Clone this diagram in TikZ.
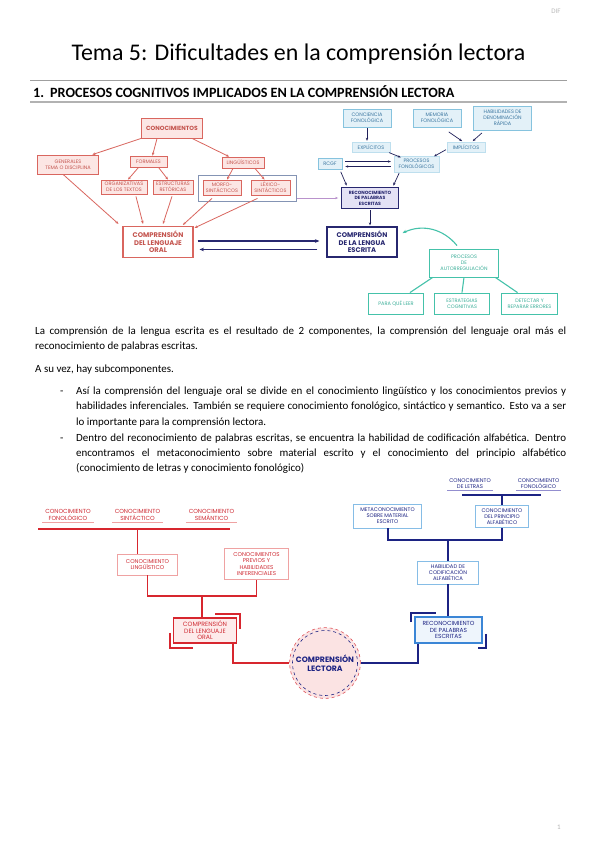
\documentclass[tikz,border=0pt]{standalone}
\usepackage{fontspec}
\setmainfont{Carlito}
\newfontfamily\dfont{Poppins}
\usetikzlibrary{arrows.meta,calc}
\definecolor{redA}{HTML}{D9665F}
\definecolor{pinkfill}{HTML}{FCE6E4}
\definecolor{redtext}{HTML}{C4544E}
\definecolor{slate}{HTML}{8494B4}
\definecolor{bluefill}{HTML}{E3F1F8}
\definecolor{blueborder}{HTML}{86C3DE}
\definecolor{bluetext}{HTML}{3A76A0}
\definecolor{lavfill}{HTML}{E4E2F5}
\definecolor{navy}{HTML}{27276F}
\definecolor{teal}{HTML}{45C2AA}
\definecolor{tealtext}{HTML}{3AAE98}
\definecolor{purpleline}{HTML}{B992CC}
\definecolor{red2}{HTML}{D7262E}
\definecolor{red2text}{HTML}{CF2B33}
\definecolor{pink2}{HTML}{EFA2A2}
\definecolor{pinkC}{HTML}{FBE3E3}
\definecolor{navy2}{HTML}{1C2383}
\definecolor{blue2}{HTML}{3B86D6}
\definecolor{lblue2}{HTML}{86BDE6}
\definecolor{fill2}{HTML}{FDEBEB}
\definecolor{bfill2}{HTML}{EEF5FC}
\newcommand{\bodyfnt}{\fontsize{11}{15.5}\selectfont}
\begin{document}
\begin{tikzpicture}[x=1bp,y=-1bp,
  wh/.style 2 args={minimum width=#1, minimum height=#2},
  dtxt/.style={font=\dfont\fontsize{5}{6}\selectfont, align=center, inner sep=0.5},
  rbox/.style={dtxt, draw=redA, fill=pinkfill, line width=0.8, text=redtext},
  rbig/.style={draw=redA, fill=white, line width=1.3, text=redtext, align=center, inner sep=0.5, font=\dfont\bfseries\fontsize{6.8}{7.4}\selectfont},
  bbox/.style={dtxt, draw=blueborder, fill=bluefill, line width=0.8, text=bluetext},
  bsoft/.style={dtxt, draw=bluefill!60!blueborder, fill=bluefill, line width=0.5, text=bluetext},
  lbox/.style={draw=navy, fill=lavfill, line width=1, text=navy, align=center, inner sep=0.5, font=\dfont\bfseries\fontsize{4.6}{5.5}\selectfont},
  nbig/.style={draw=navy, fill=white, line width=1.4, text=navy, align=center, inner sep=0.5, font=\dfont\bfseries\fontsize{6.8}{7.4}\selectfont},
  tbox/.style={dtxt, draw=teal, fill=white, line width=0.9, text=tealtext},
  rarr/.style={draw=redA, line width=0.8, -{Stealth[length=3.2,width=2.6]}},
  darr/.style={draw=navy!80!black, line width=0.7, -{Stealth[length=3,width=2.4]}, shorten >=1, shorten <=1},
  narr/.style={draw=navy, line width=1.4, -{Stealth[length=4.5,width=3.6]}},
  tline/.style={draw=teal, line width=1.1},
  r2lab/.style={font=\dfont\fontsize{5.9}{6.6}\selectfont, align=center, inner sep=1, text=red2text, minimum width=51},
  b2lab/.style={font=\dfont\fontsize{5.4}{6.2}\selectfont, align=center, inner sep=1, text=navy2, minimum width=45},
  r2box/.style={font=\dfont\fontsize{5.6}{6.3}\selectfont, align=center, inner sep=0.5, text=red2text, draw=pink2, fill=white, line width=0.8},
  b2box/.style={font=\dfont\fontsize{5.3}{6.1}\selectfont, align=center, inner sep=0.5, text=navy2, draw=lblue2, fill=white, line width=0.8},
  r2line/.style={draw=red2, line width=2},
  b2line/.style={draw=navy2, line width=2}
]
\useasboundingbox (0,0) rectangle (599,848);
\fill[white] (0,0) rectangle (599,848);

% header
\node[anchor=base, inner sep=0, text=gray!55, font=\fontsize{7}{8}\selectfont] (dif) at (556,13) {DIF};
\node[anchor=base, inner sep=0, font=\fontsize{24}{28}\selectfont] (title) at (298.5,60.5) {Tema 5: Dificultades en la comprensión lectora};
\coordinate (r1a) at (30,80); \coordinate (r1b) at (567,80);
\draw[gray!75, line width=0.8] (r1a) -- (r1b);
\node[anchor=base west, inner sep=0, font=\bfseries\fontsize{14.2}{16}\selectfont] (h1n) at (33,97) {1.};
\node[anchor=base west, inner sep=0, font=\bfseries\fontsize{14.2}{16}\selectfont] (h1) at (50,97) {PROCESOS COGNITIVOS IMPLICADOS EN LA COMPRENSIÓN LECTORA};
\coordinate (r2a) at (30,102); \coordinate (r2b) at (567,102);
\draw[gray!60, line width=2.4] (r2a) -- (r2b);

% ===== diagram 1, red part
\node[rbox, wh={61}{20}, font=\dfont\bfseries\fontsize{6}{7}\selectfont] (conoc) at (172,128) {CONOCIMIENTOS};
\node[rbox, wh={62}{19}] (gen) at (68,164.5) {GENERALES\\TEMA O DISCIPLINA};
\node[rbox, wh={37}{11}] (form) at (148.5,161.5) {FORMALES};
\node[rbox, wh={42}{11}] (ling) at (243,162.5) {LINGÜÍSTICOS};
\node[rbox, wh={46}{14}] (org) at (124,187) {ORGANIZATIVAS\\DE LOS TEXTOS};
\node[rbox, wh={40}{14}] (est) at (173,187) {ESTRUCTURAS\\RETÓRICAS};
\node[draw=slate, line width=1, wh={99}{27}, inner sep=0] (grp) at (247.5,188.5) {};
\node[rbox, wh={38}{15}] (morf) at (222,187.5) {MORFO-\\SINTÁCTICOS};
\node[rbox, wh={39}{15}] (lex) at (270.5,187.5) {LÉXICO-\\SINTÁCTICOS};
\node[rbig, wh={70}{31}] (cdlo) at (158,242) {COMPRENSIÓN\\DEL LENGUAJE\\ORAL};

\draw[rarr] (conoc.south west) -- ([xshift=-7]gen.north east);
\draw[rarr] ([xshift=-15]conoc.south) -- ([xshift=4]form.north);
\draw[rarr] ([xshift=20]conoc.south) -- ([xshift=-14]ling.north);
\draw[rarr] ([xshift=-10]form.south) -- ([xshift=4]org.north);
\draw[rarr] ([xshift=10]form.south) -- ([xshift=-5]est.north);
\draw[rarr] ([xshift=-10]ling.south) -- ([xshift=5]morf.north);
\draw[rarr] ([xshift=12]ling.south) -- ([xshift=-6]lex.north);
\draw[rarr] ([xshift=-5]gen.south) -- ([xshift=-4,yshift=2]cdlo.north west);
\draw[rarr] ([xshift=12,yshift=-2]org.south) -- ([xshift=-15,yshift=2]cdlo.north);
\draw[rarr] ([xshift=-1,yshift=-2]est.south) -- ([xshift=5,yshift=2]cdlo.north);
\draw[rarr] ([xshift=-10,yshift=-3]morf.south) -- ([xshift=25,yshift=1]cdlo.north);
\draw[rarr] ([xshift=-13,yshift=-3]lex.south) -- ([xshift=1,yshift=-2]cdlo.north east);

% ===== diagram 1, blue part
\node[bbox, wh={48}{18}] (cf) at (367,118) {CONCIENCIA\\FONOLÓGICA};
\node[bbox, wh={48}{18}] (mf) at (437,118) {MEMORIA\\FONOLÓGICA};
\node[bbox, wh={59}{24}] (hd) at (502.5,118) {HABILIDADES DE\\DENOMINACIÓN\\RÁPIDA};
\node[bsoft, wh={38}{10}] (exp) at (371,147) {EXPLÍCITOS};
\node[bsoft, wh={38}{10}] (imp) at (466,147) {IMPLÍCITOS};
\node[bbox, wh={24}{11}] (rcgf) at (330,164) {RCGF};
\node[bsoft, wh={45}{16}] (pf) at (416.5,164) {PROCESOS\\FONOLÓGICOS};
\node[lbox, wh={57}{22}] (recon) at (370,198) {RECONOCIMIENTO\\DE PALABRAS\\ESCRITAS};
\node[nbig, wh={70}{30}] (cdle) at (362,242) {COMPRENSIÓN\\DE LA LENGUA\\ESCRITA};

\draw[darr] (cf.south) -- (cf.south |- exp.north);
\draw[darr] ([xshift=11,yshift=-4]mf.south) -- ([xshift=-3]imp.north);
\draw[darr] ([xshift=-20,yshift=-2]hd.south) -- ([xshift=6]imp.north);
\draw[darr] ([xshift=-2]exp.south east) -- ([xshift=8,yshift=-2]pf.north west);
\draw[darr] ([yshift=3]imp.south west) -- ([xshift=-6,yshift=-1]pf.north east);
\draw[darr, shorten <=3, shorten >=3] ([yshift=2.5]rcgf.east) -- ([yshift=2.5]pf.west);
\draw[darr, shorten <=3, shorten >=3] ([yshift=-2.5]pf.west) -- ([yshift=-2.5]rcgf.east);
\draw[darr] ([xshift=-2,yshift=-1]rcgf.south east) -- ([xshift=6]recon.north west);
\draw[darr] ([xshift=-17]pf.south) -- ([xshift=-6]recon.north east);
\draw[darr, line width=0.9] (recon.south) -- (recon.south |- cdle.north);
\draw[draw=purpleline, line width=0.8, -{Stealth[length=3,width=2.4]}, shorten >=3] (grp.east |- recon.west) -- (recon.west);

\draw[narr] ([xshift=4,yshift=1]cdlo.east) -- ([xshift=-7,yshift=1]cdle.west);
\draw[narr] ([xshift=-9,yshift=-7.5]cdle.west) -- ([xshift=6,yshift=-7.5]cdlo.east);

% teal
\node[tbox, wh={70}{28}] (par) at (464,263) {PROCESOS\\DE\\AUTORREGULACIÓN};
\node[tbox, wh={56}{21}] (pql) at (396,303.5) {PARA QUÉ LEER};
\node[tbox, wh={56}{21}] (estc) at (462,303.5) {ESTRATEGIAS\\COGNITIVAS};
\node[tbox, wh={57}{21}] (det) at (529.5,303.5) {DETECTAR Y\\REPARAR ERRORES};
\draw[tline, -{Stealth[length=4,width=3.4]}] ([xshift=-7,yshift=3]par.north) to[bend right=38] ([xshift=5,yshift=9]cdle.east);
\draw[tline] ([xshift=4]par.south west) -- ([xshift=14]pql.north);
\draw[tline] (par.south) -- (estc.north);
\draw[tline] ([xshift=-4]par.south east) -- ([xshift=-12]det.north);

% ===== body text
\node[anchor=base west, text width=531bp, align=justify, inner sep=0, font=\bodyfnt] (p1) at (35,334) {La comprensión de la lengua escrita es el resultado de 2 componentes, la comprensión del lenguaje oral más el\linebreak reconocimiento de palabras escritas.};
\node[anchor=base west, inner sep=0, font=\bodyfnt] (p2) at (35,372) {A su vez, hay subcomponentes.};
\node[anchor=base west, inner sep=0, font=\bodyfnt] (d1) at (60,394.5) {-};
\node[anchor=base west, text width=490bp, align=justify, inner sep=0, font=\bodyfnt] (b1) at (76,394.5) {Así la comprensión del lenguaje oral se divide en el conocimiento lingüístico y los conocimientos previos y\linebreak habilidades inferenciales. También se requiere conocimiento fonológico, sintáctico y semantico. Esto va a ser\linebreak lo importante para la comprensión lectora.};
\node[anchor=base west, inner sep=0, font=\bodyfnt] (d2) at (60,441) {-};
\node[anchor=base west, text width=490bp, align=justify, inner sep=0, font=\bodyfnt] (b2) at (76,441) {Dentro del reconocimiento de palabras escritas, se encuentra la habilidad de codificación alfabética. Dentro\linebreak encontramos el metaconocimiento sobre material escrito y el conocimiento del principio alfabético\linebreak (conocimiento de letras y conocimiento fonológico)};

% ===== diagram 2, red
\node[r2lab] (cfon) at (68,515) {CONOCIMIENTO\\FONOLÓGICO};
\node[r2lab] (csin) at (137.5,515) {CONOCIMIENTO\\SINTÁCTICO};
\node[r2lab] (csem) at (211.5,515) {CONOCIMIENTO\\SEMÁNTICO};
\foreach \n in {cfon,csin,csem} \draw[pink2, line width=0.9] ([yshift=-1]\n.south west) -- ([yshift=-1]\n.south east);
\coordinate (rbL) at (38,529); \coordinate (rbR) at (230,529);
\draw[r2line] (rbL) -- (rbR);
\node[r2box, wh={61}{21}] (cling) at (147.5,564.5) {CONOCIMIENTO\\LINGÜÍSTICO};
\node[r2box, wh={64}{31}] (cprev) at (256.5,564) {CONOCIMIENTOS\\PREVIOS Y\\HABILIDADES\\INFERENCIALES};
\draw[r2line] (csin.south |- rbL) -- (csin.south |- cling.north);
\coordinate (jr) at (202,596);
\draw[r2line] (cling.south) |- (jr) -| (cprev.south);
\node[draw=red2, fill=fill2, line width=1.6, wh={63}{25}, font=\dfont\fontsize{6.2}{6.6}\selectfont, text=red2text, align=center, inner sep=0.5] (cdlo2) at (205,630.5) {COMPRENSIÓN\\DEL LENGUAJE\\ORAL};
\draw[r2line] (jr) -- (jr |- cdlo2.north);
\draw[red2, line width=2.2] ([xshift=-22,yshift=3]cdlo2.north east) -| ([xshift=3,yshift=-12]cdlo2.north east);
\draw[red2, line width=2.2] ([xshift=-3,yshift=11]cdlo2.south west) |- ([xshift=20,yshift=-4]cdlo2.south west);

% circle
\node[circle, minimum size=71, fill=pinkC, draw=red2!80, dashed, line width=0.6, text=navy2, font=\dfont\bfseries\fontsize{7.8}{9}\selectfont, align=center, inner sep=0] (cl) at (325,663) {COMPRENSIÓN\\LECTORA};
\draw[navy2, dashed, line width=0.6] (cl.center) circle (32.5);
\draw[r2line] ([xshift=-4]cdlo2.south east) |- (cl.west);

% ===== diagram 2, blue
\node[b2lab] (clet) at (470,484) {CONOCIMIENTO\\DE LETRAS};
\node[b2lab] (cfon2) at (538.5,484) {CONOCIMIENTO\\FONOLÓGICO};
\foreach \n in {clet,cfon2} \draw[purpleline!70!blue2, line width=0.9] ([yshift=-0.5]\n.south west) -- ([yshift=-0.5]\n.south east);
\coordinate (bbL) at (462,494.5); \coordinate (bbR) at (541,494.5);
\draw[b2line] (bbL) -- (bbR);
\node[b2box, wh={69}{24}] (meta) at (387.5,516) {METACONOCIMIENTO\\SOBRE MATERIAL\\ESCRITO};
\node[b2box, wh={53}{22}] (cpa) at (502,516.5) {CONOCIMIENTO\\DEL PRINCIPIO\\ALFABÉTICO};
\draw[b2line] (cpa.north |- bbL) -- (cpa.north);
\node[b2box, wh={62}{23}] (hab) at (448,572.5) {HABILIDAD DE\\CODIFICACIÓN\\ALFABÉTICA};
\coordinate (jb) at (448,540);
\draw[b2line] (meta.south) |- (jb) -| (cpa.south);
\draw[b2line] (jb) -- (hab.north);
\node[draw=blue2, fill=bfill2, line width=1.6, wh={67}{26}, font=\dfont\fontsize{5.9}{6.6}\selectfont, text=navy2, align=center, inner sep=0.5] (recon2) at (448.5,630) {RECONOCIMIENTO\\DE PALABRAS\\ESCRITAS};
\draw[b2line] (hab.south) -- (hab.south |- recon2.north);
\draw[navy2, line width=2.2] ([xshift=-3,yshift=-6]recon2.north west) |- ([xshift=22,yshift=3]recon2.north west);
\draw[navy2, line width=2.2] ([xshift=3,yshift=10]recon2.south east) |- ([xshift=-5,yshift=-4]recon2.south east);
\draw[b2line] ([xshift=4]recon2.south west) |- (cl.east);

% page number
\node[anchor=base, inner sep=0, text=gray!60, font=\fontsize{7}{8}\selectfont] (pg) at (559,829) {1};
\end{tikzpicture}
\end{document}
